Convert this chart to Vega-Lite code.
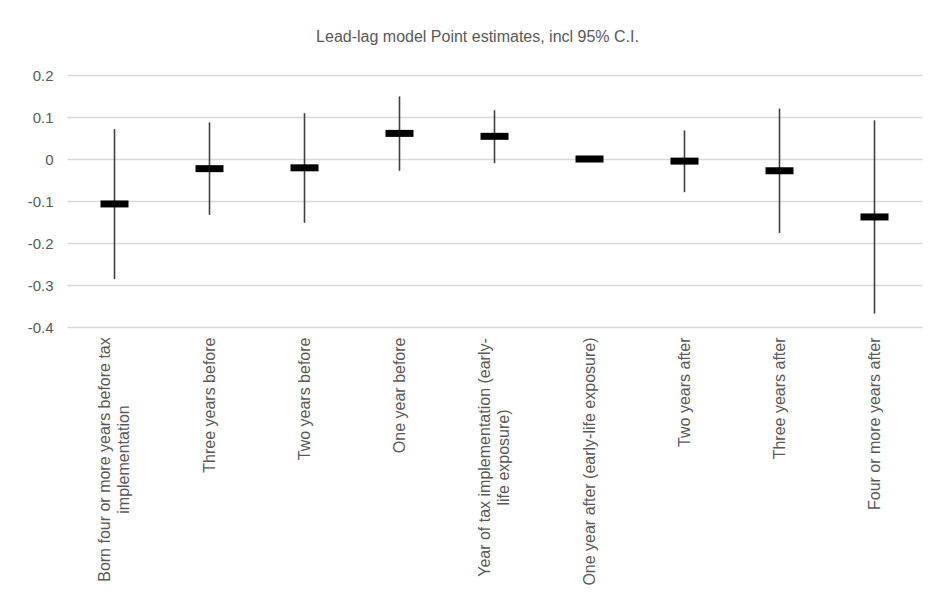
{
  "$schema": "https://vega.github.io/schema/vega-lite/v6.json",
  "width": 855,
  "height": 252,
  "autosize": {"type": "none"},
  "padding": {"left": 67, "right": 27, "top": 75, "bottom": 273},
  "background": "white",
  "title": {
    "text": "Lead-lag model Point estimates, incl 95% C.I.",
    "font": "Liberation Sans",
    "fontSize": 16,
    "fontWeight": "normal",
    "color": "#595959",
    "anchor": "middle",
    "offset": 23,
    "dx": -17
  },
  "config": {
    "view": {"stroke": null},
    "font": "Liberation Sans"
  },
  "data": {
    "values": [
      {"label": "Born four or more years before tax|implementation", "est": -0.107, "lo": -0.286, "hi": 0.071},
      {"label": "Three years before", "est": -0.023, "lo": -0.133, "hi": 0.087},
      {"label": "Two years before", "est": -0.021, "lo": -0.152, "hi": 0.109},
      {"label": "One year before", "est": 0.061, "lo": -0.028, "hi": 0.149},
      {"label": "Year of tax implementation (early-|life exposure)", "est": 0.054, "lo": -0.01, "hi": 0.116},
      {"label": "One year after (early-life exposure)", "est": 0.0, "lo": 0.0, "hi": 0.0},
      {"label": "Two years after", "est": -0.005, "lo": -0.079, "hi": 0.068},
      {"label": "Three years after", "est": -0.028, "lo": -0.176, "hi": 0.12},
      {"label": "Four or more years after", "est": -0.138, "lo": -0.368, "hi": 0.092}
    ]
  },
  "encoding": {
    "x": {
      "field": "label",
      "type": "nominal",
      "sort": null,
      "scale": {"paddingInner": 0, "paddingOuter": 0},
      "axis": {
        "title": null,
        "domain": false,
        "ticks": false,
        "labelAngle": -90,
        "labelAlign": {"condition": {"test": "indexof(datum.value, '|') >= 0", "value": "center"}, "value": "right"},
        "labelBaseline": "middle",
        "labelPadding": {"condition": [
          {"test": "indexof(datum.value, 'Born') == 0", "value": 132},
          {"test": "indexof(datum.value, 'Year of') == 0", "value": 130}
        ], "value": 10},
        "labelOffset": {"condition": {"test": "indexof(datum.value, '|') >= 0", "value": -10}, "value": 0},
        "labelFontSize": 16,
        "labelColor": "#595959",
        "labelLimit": 0,
        "labelLineHeight": 19,
        "labelExpr": "split(datum.label, '|')",
        "grid": false
      }
    }
  },
  "layer": [
    {
      "mark": {"type": "rule", "color": "#404040", "strokeWidth": 1.6},
      "encoding": {
        "y": {
          "field": "lo",
          "type": "quantitative",
          "scale": {"domain": [-0.4, 0.2], "nice": false, "zero": false},
          "axis": {
            "title": null,
            "domain": false,
            "ticks": false,
            "values": [-0.4, -0.3, -0.2, -0.1, 0, 0.1, 0.2],
            "labelExpr": "datum.value == 0 ? '0' : (datum.value < 0 ? '-' + format(-datum.value, '.1f') : format(datum.value, '.1f'))",
            "labelFontSize": 15,
            "labelColor": "#595959",
            "labelPadding": 14,
            "gridColor": "#d9d9d9",
            "gridWidth": 1.3
          }
        },
        "y2": {"field": "hi"}
      }
    },
    {
      "mark": {"type": "tick", "color": "black", "size": 28, "thickness": 7, "opacity": 1},
      "encoding": {
        "y": {"field": "est", "type": "quantitative"}
      }
    }
  ]
}
